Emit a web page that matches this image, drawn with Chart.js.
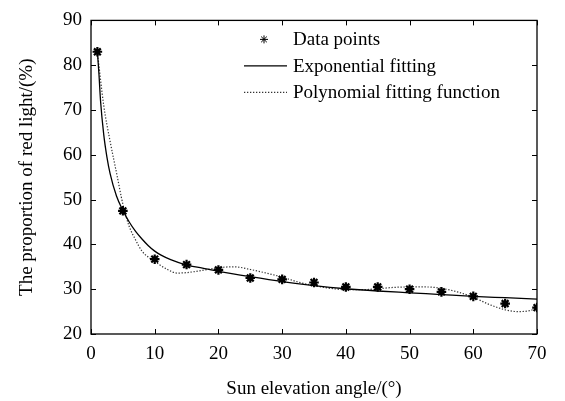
<!DOCTYPE html>
<html>
<head>
<meta charset="utf-8">
<script src="https://cdn.jsdelivr.net/npm/chart.js@4.4.0/dist/chart.umd.min.js"></script>
<style>
  html, body { margin: 0; padding: 0; background: #fff; }
  #wrap { width: 565px; height: 401px; }
</style>
</head>
<body>
<div id="wrap"><canvas id="chart" width="565" height="401"></canvas></div>
<script>
const FONT = "'Liberation Serif', 'Times New Roman', serif";

// measured points
const angles = [1, 5, 10, 15, 20, 25, 30, 35, 40, 45, 50, 55, 60, 65, 70];
const redShare = [83, 47.5, 36.7, 35.5, 34.3, 32.5, 32.2, 31.5, 30.5, 30.5, 30.0, 29.4, 28.4, 26.8, 25.9];

// exponential fit curve
const expX = [1, 1.25, 1.5, 2, 2.5, 3, 4, 5, 6, 7, 8, 9, 10, 11, 12.5, 15, 17.5, 20, 25, 30, 35, 40, 45, 50, 55, 60, 65, 70];
const expY = [83, 78, 72, 64.5, 59.5, 55.8, 50.8, 47.6, 45, 42.9, 41.2, 39.7, 38.5, 37.6, 36.6, 35.4, 34.7, 34.0, 32.8, 31.7, 30.8, 30.1, 29.6, 29.2, 28.8, 28.4, 28.1, 27.8];

// polynomial fit curve
const polyX = [1, 2, 3, 4, 5, 6, 7, 8, 10, 12, 13.5, 15, 17.5, 20, 22.5, 25, 27.5, 30, 32.5, 35, 37.5, 40, 42.5, 45, 47.5, 50, 52.5, 55, 57.5, 60, 62.5, 65, 67, 68.8, 70];
const polyY = [83, 71, 63, 56, 49, 44, 41, 38.5, 36.2, 34.4, 33.6, 33.7, 34.2, 34.8, 35, 34.4, 33.6, 32.7, 31.6, 30.8, 30.2, 29.9, 29.9, 30.1, 30.4, 30.5, 30.5, 30.2, 29.4, 28.2, 26.6, 25.4, 25, 25.2, 25.8];

const xTicks = [0, 10, 20, 30, 40, 50, 60, 70];
const yTicks = [20, 30, 40, 50, 60, 70, 80, 90];

const toXY = (xs, ys) => xs.map((x, i) => ({ x, y: ys[i] }));

// frame + inward ticks on all four sides, and the legend inside the plot
const framePlugin = {
  id: "frame",
  afterDraw(chart) {
    const { ctx, chartArea: a, scales } = chart;
    const t = 5;
    ctx.save();
    ctx.strokeStyle = "#000";
    ctx.lineWidth = 1.3;
    ctx.strokeRect(a.left, a.top, a.right - a.left, a.bottom - a.top);
    ctx.lineWidth = 1;
    ctx.beginPath();
    xTicks.forEach((v) => {
      const px = Math.round(scales.x.getPixelForValue(v)) + 0.5;
      ctx.moveTo(px, a.bottom); ctx.lineTo(px, a.bottom - t);
      ctx.moveTo(px, a.top); ctx.lineTo(px, a.top + t);
    });
    yTicks.forEach((v) => {
      const py = Math.round(scales.y.getPixelForValue(v)) + 0.5;
      ctx.moveTo(a.left, py); ctx.lineTo(a.left + t, py);
      ctx.moveTo(a.right, py); ctx.lineTo(a.right - t, py);
    });
    ctx.stroke();

    // legend
    const lx = a.left + 153, tx = a.left + 202;
    let ly = a.top + 19;
    ctx.font = "19px " + FONT;
    ctx.fillStyle = "#000";
    ctx.textBaseline = "middle";
    chart.data.datasets.forEach((ds) => {
      if (ds.showLine === false) {
        Chart.helpers.drawPoint(ctx, { pointStyle: "star", radius: 4, borderWidth: 1.8 }, lx + 20, ly);
      } else {
        ctx.beginPath();
        ctx.lineWidth = ds.borderWidth;
        ctx.strokeStyle = ds.borderColor;
        ctx.setLineDash(ds.borderDash || []);
        ctx.moveTo(lx, ly); ctx.lineTo(lx + 43, ly);
        ctx.stroke();
        ctx.setLineDash([]);
      }
      ctx.fillText(ds.label, tx, ly + 1);
      ly += 26.5;
    });
    ctx.restore();
  },
};

new Chart(document.getElementById("chart"), {
  type: "scatter",
  data: {
    datasets: [
      {
        label: "Data points",
        data: toXY(angles, redShare),
        showLine: false,
        pointStyle: "star",
        pointRadius: 4.8,
        pointBorderWidth: 2.2,
        borderColor: "#000",
        backgroundColor: "#000",
        order: 0,
      },
      {
        label: "Exponential fitting",
        data: toXY(expX, expY),
        showLine: true,
        pointRadius: 0,
        borderColor: "#000",
        borderWidth: 1.3,
        cubicInterpolationMode: "monotone",
        order: 1,
      },
      {
        label: "Polynomial fitting function",
        data: toXY(polyX, polyY),
        showLine: true,
        pointRadius: 0,
        borderColor: "#333",
        borderWidth: 1.2,
        borderDash: [1.3, 1.7],
        cubicInterpolationMode: "monotone",
        order: 2,
      },
    ],
  },
  options: {
    responsive: false,
    animation: false,
    layout: { padding: { top: 16, right: 28, left: 0, bottom: 0 } },
    plugins: { legend: { display: false }, tooltip: { enabled: false } },
    scales: {
      x: {
        type: "linear",
        min: 0,
        max: 70,
        afterBuildTicks: (s) => { s.ticks = xTicks.map((v) => ({ value: v })); },
        afterFit: (s) => { s.height = 67; },
        grid: { display: false, drawTicks: false },
        border: { display: false },
        ticks: { color: "#000", font: { family: FONT, size: 19 }, padding: 9, maxRotation: 0 },
        title: {
          display: true,
          text: "Sun elevation angle/(°)",
          color: "#000",
          font: { family: FONT, size: 19 },
          padding: { top: 0, bottom: 1 },
        },
      },
      y: {
        min: 20,
        max: 90,
        afterBuildTicks: (s) => { s.ticks = yTicks.map((v) => ({ value: v })); },
        afterFit: (s) => { s.width = 91; },
        grid: { display: false, drawTicks: false },
        border: { display: false },
        ticks: { color: "#000", font: { family: FONT, size: 19 }, padding: 9 },
        title: {
          display: true,
          text: "The proportion of red light/(%)",
          color: "#000",
          font: { family: FONT, size: 19 },
          padding: { top: 16, bottom: 0 },
        },
      },
    },
  },
  plugins: [framePlugin],
});
</script>
</body>
</html>
